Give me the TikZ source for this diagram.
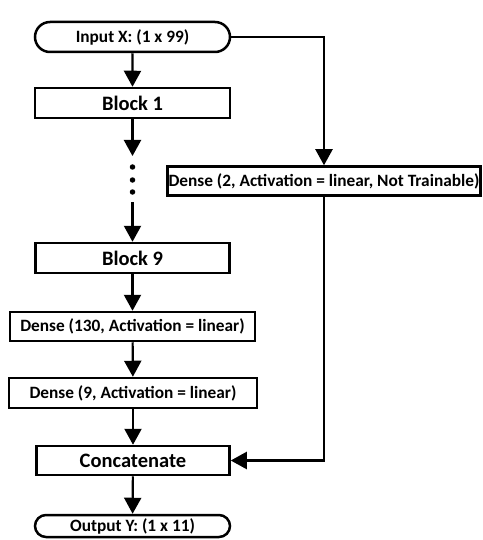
\documentclass[tikz,border=0pt]{standalone}
\usepackage{fontspec}
\setmainfont{Carlito}
\usetikzlibrary{arrows.meta,shapes.misc}

\begin{document}
\begin{tikzpicture}[
					x=1pt, y=-1pt,
					font=\bfseries\fontsize{17.3}{19}\selectfont,
					layer/.style={draw, line width=2.5pt, minimum height=30pt, inner sep=0pt},
					terminal/.style={layer, rounded rectangle, minimum width=195pt},
					big/.style={font=\bfseries\fontsize{20.5}{22}\selectfont},
					dot/.style={circle, fill, inner sep=0pt, minimum size=5.5pt},
					flow/.style={line width=2.2pt, -{Triangle[width=17pt,length=16pt]}}
					]

					\useasboundingbox (0,0) rectangle (482,540);

					\node[terminal] (inp) at (132.5,37) {Input X: (1 x 99)};
					\node[layer,big,minimum width=195pt] (blk1) at (132.5,103) {Block 1};
					\node[dot] (dotA) at (132.5,167) {};
					\node[dot] (dotB) at (132.5,180) {};
					\node[dot] (dotC) at (132.5,192) {};
					\node[layer,big,minimum width=194pt] (blk9) at (132.5,258) {Block 9};
					\node[layer,minimum width=245pt,minimum height=29pt] (d130) at (132.5,326.5) {Dense (130, Activation = linear)};
					\node[layer,minimum width=248pt] (d9) at (133,393) {Dense (9, Activation = linear)};
					\node[layer,big,minimum width=193pt,minimum height=29pt] (cat) at (133,460.5) {Concatenate};
					\node[terminal,minimum height=22pt] (outp) at (132.5,526) {Output Y: (1 x 11)};
					\node[layer,minimum width=313pt,minimum height=29pt] (d2) at (324,181) {Dense (2, Activation = linear, Not Trainable)};

					\coordinate (gapA) at (132.5,156);
					\coordinate (gapB) at (132.5,202);

					\draw[flow] (inp) -- (blk1);
					\draw[flow] (blk1) -- (gapA);
					\draw[flow] (gapB) -- (blk9);
					\draw[flow] (blk9) -- (d130);
					\draw[flow] (d130) -- (d9);
					\draw[flow] (d9.south -| cat) -- (cat);
					\draw[flow] (cat) -- (outp);
					\draw[flow] (inp.east) -| (d2.north);
					\draw[flow] (d2.south) |- (cat.east);

				\end{tikzpicture}
\end{document}
